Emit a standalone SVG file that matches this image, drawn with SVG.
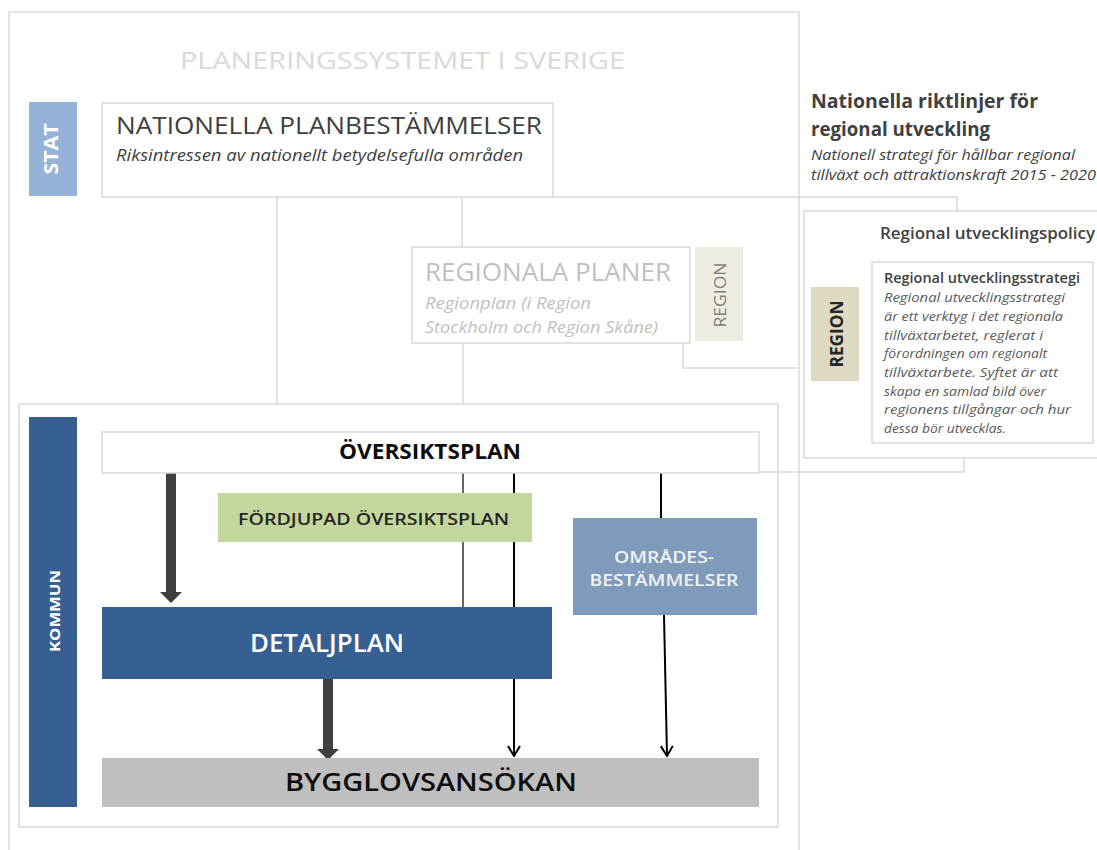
<svg xmlns="http://www.w3.org/2000/svg" width="1097" height="850" viewBox="0 0 1097 850">
  <style>
    .frame { fill: none; stroke: #d9d9d9; stroke-width: 1.5; }
    .box { fill: #ffffff; stroke: #d9d9d9; stroke-width: 1.5; }
    .guide { fill: none; stroke: #d9d9d9; stroke-width: 1.5; }
    .thin { fill: none; stroke: #000000; stroke-width: 1.2; }
    .flow { fill: none; stroke: #000000; stroke-width: 2; }
    .heavy { fill: #404040; }
    text { font-family: "Open Sans", "Liberation Sans", sans-serif; }
    .it { font-style: italic; }
  </style>
  <defs>
    <marker id="open-arrow" viewBox="0 0 12 14" refX="11" refY="7" markerWidth="12" markerHeight="14" markerUnits="userSpaceOnUse" orient="auto">
      <path d="M1,1 L11,7 L1,13" fill="none" stroke="#000" stroke-width="2"/>
    </marker>
  </defs>

  <rect width="1097" height="850" fill="#ffffff"/>

  <!-- outer frame and title -->
  <g id="planeringssystemet">
    <rect class="frame" x="9" y="12" width="790" height="860"/>
    <text x="180" y="69" font-size="24" fill="#d9d9d9" textLength="445" lengthAdjust="spacingAndGlyphs">PLANERINGSSYSTEMET I SVERIGE</text>
  </g>

  <!-- connectors -->
  <g id="connectors">
    <path class="guide" d="M277,197 V404"/>
    <path class="guide" d="M462,197 V247"/>
    <path class="guide" d="M553,197 H957 V211"/>
    <path class="guide" d="M463,343 V404"/>
    <path class="guide" d="M683,343 V368 H798"/>
    <path class="guide" d="M759,472 H964 V458"/>
    <path class="thin" d="M463,473 V607"/>
    <path class="flow" d="M514,473 V756" marker-end="url(#open-arrow)"/>
    <path class="flow" d="M661,473 V518"/>
    <path class="flow" d="M664,615 L667,756" marker-end="url(#open-arrow)"/>
    <path class="heavy" d="M166,472 H176 V592 H182 L171,603 L160,592 H166 Z"/>
    <path class="heavy" d="M323,679 H333 V749 H339 L328,760 L317,749 H323 Z"/>
  </g>

  <g id="stat">
    <rect x="29" y="102" width="48" height="94" fill="#95b3d7"/>
    <text transform="translate(58,149) rotate(-90)" text-anchor="middle" font-size="20" font-weight="700" fill="#ffffff" textLength="51" lengthAdjust="spacingAndGlyphs">STAT</text>
  </g>

  <g id="nationella-planbestammelser">
    <rect class="box" x="102" y="103" width="451" height="94"/>
    <text x="116" y="134" font-size="24" fill="#404040" textLength="426" lengthAdjust="spacingAndGlyphs">NATIONELLA PLANBESTÄMMELSER</text>
    <text class="it" x="116" y="161" font-size="16" fill="#404040" textLength="407" lengthAdjust="spacingAndGlyphs">Riksintressen av nationellt betydelsefulla områden</text>
  </g>

  <g id="regionala-planer">
    <rect class="box" x="412" y="247" width="278" height="96"/>
    <text x="425" y="281" font-size="25" fill="#bfbfbf" textLength="246" lengthAdjust="spacingAndGlyphs">REGIONALA PLANER</text>
    <text class="it" x="425" y="309" font-size="17" fill="#bfbfbf" textLength="166" lengthAdjust="spacingAndGlyphs">Regionplan (i Region</text>
    <text class="it" x="425" y="333" font-size="17" fill="#bfbfbf" textLength="233" lengthAdjust="spacingAndGlyphs">Stockholm och Region Skåne)</text>
  </g>

  <g id="region-label">
    <rect x="695" y="247" width="48" height="94" fill="#eeece1"/>
    <text transform="translate(726,295) rotate(-90)" text-anchor="middle" font-size="17" fill="#7f7f7f" textLength="65" lengthAdjust="spacingAndGlyphs">REGION</text>
  </g>

  <g id="nationella-riktlinjer">
    <text x="811" y="108" font-size="19" font-weight="700" fill="#404040" textLength="227" lengthAdjust="spacingAndGlyphs">Nationella riktlinjer för</text>
    <text x="811" y="136" font-size="19" font-weight="700" fill="#404040" textLength="179" lengthAdjust="spacingAndGlyphs">regional utveckling</text>
    <text class="it" x="811" y="160" font-size="14.5" fill="#404040" textLength="264" lengthAdjust="spacingAndGlyphs">Nationell strategi för hållbar regional</text>
    <text class="it" x="811" y="180" font-size="14.5" fill="#404040" textLength="285" lengthAdjust="spacingAndGlyphs">tillväxt och attraktionskraft 2015 - 2020</text>
  </g>

  <g id="regional-utvecklingspolicy">
    <rect class="box" x="804" y="211" width="310" height="247"/>
    <text x="880" y="239" font-size="15.5" font-weight="600" fill="#404040" textLength="215" lengthAdjust="spacingAndGlyphs">Regional utvecklingspolicy</text>
  </g>

  <g id="region-policy-label">
    <rect x="811" y="287" width="48" height="94" fill="#ddd9c3"/>
    <text transform="translate(843,334) rotate(-90)" text-anchor="middle" font-size="17" font-weight="700" fill="#262626" textLength="67" lengthAdjust="spacingAndGlyphs">REGION</text>
  </g>

  <g id="regional-utvecklingsstrategi">
    <rect class="box" x="872" y="262" width="221" height="181"/>
    <text x="884" y="283" font-size="14" font-weight="600" fill="#404040" textLength="196" lengthAdjust="spacingAndGlyphs">Regional utvecklingsstrategi</text>
    <g class="it" font-size="13" fill="#595959">
      <text x="884" y="302" textLength="181" lengthAdjust="spacingAndGlyphs">Regional utvecklingsstrategi</text>
      <text x="884" y="321" textLength="179" lengthAdjust="spacingAndGlyphs">är ett verktyg i det regionala</text>
      <text x="884" y="340" textLength="159" lengthAdjust="spacingAndGlyphs">tillväxtarbetet, reglerat i</text>
      <text x="884" y="358" textLength="163" lengthAdjust="spacingAndGlyphs">förordningen om regionalt</text>
      <text x="884" y="377" textLength="174" lengthAdjust="spacingAndGlyphs">tillväxtarbete. Syftet är att</text>
      <text x="884" y="396" textLength="162" lengthAdjust="spacingAndGlyphs">skapa en samlad bild över</text>
      <text x="884" y="414" textLength="187" lengthAdjust="spacingAndGlyphs">regionens tillgångar och hur</text>
      <text x="884" y="433" textLength="122" lengthAdjust="spacingAndGlyphs">dessa bör utvecklas.</text>
    </g>
  </g>

  <!-- municipal level -->
  <g id="kommun">
    <rect class="frame" x="19" y="404" width="759" height="423"/>
    <rect x="29" y="417" width="48" height="390" fill="#366092"/>
    <text transform="translate(60,611) rotate(-90)" text-anchor="middle" font-size="15" font-weight="700" fill="#ffffff" textLength="82" lengthAdjust="spacingAndGlyphs">KOMMUN</text>
  </g>

  <g id="oversiktsplan">
    <rect class="box" x="102" y="432" width="657" height="41"/>
    <text x="430" y="459" text-anchor="middle" font-size="21" font-weight="700" fill="#0d0d0d" textLength="182" lengthAdjust="spacingAndGlyphs">ÖVERSIKTSPLAN</text>
  </g>

  <g id="fordjupad-oversiktsplan">
    <rect x="218" y="493" width="314" height="49" fill="#c3d69b"/>
    <text x="238" y="525" font-size="16" font-weight="600" fill="#262626" textLength="271" lengthAdjust="spacingAndGlyphs">FÖRDJUPAD ÖVERSIKTSPLAN</text>
  </g>

  <g id="omradesbestammelser">
    <rect x="573" y="518" width="184" height="97" fill="#7f9bbb"/>
    <text x="664" y="563" text-anchor="middle" font-size="16" font-weight="600" fill="#f2f2f2" textLength="100" lengthAdjust="spacingAndGlyphs">OMRÅDES-</text>
    <text x="664" y="586" text-anchor="middle" font-size="16" font-weight="600" fill="#f2f2f2" textLength="149" lengthAdjust="spacingAndGlyphs">BESTÄMMELSER</text>
  </g>

  <g id="detaljplan">
    <rect x="102" y="607" width="450" height="72" fill="#366092"/>
    <text x="327" y="652" text-anchor="middle" font-size="25" font-weight="600" fill="#ffffff" textLength="154" lengthAdjust="spacingAndGlyphs">DETALJPLAN</text>
  </g>

  <g id="bygglovsansokan">
    <rect x="102" y="758" width="657" height="49" fill="#bfbfbf"/>
    <text x="431" y="791" text-anchor="middle" font-size="26" font-weight="600" fill="#0d0d0d" textLength="292" lengthAdjust="spacingAndGlyphs">BYGGLOVSANSÖKAN</text>
  </g>
</svg>
